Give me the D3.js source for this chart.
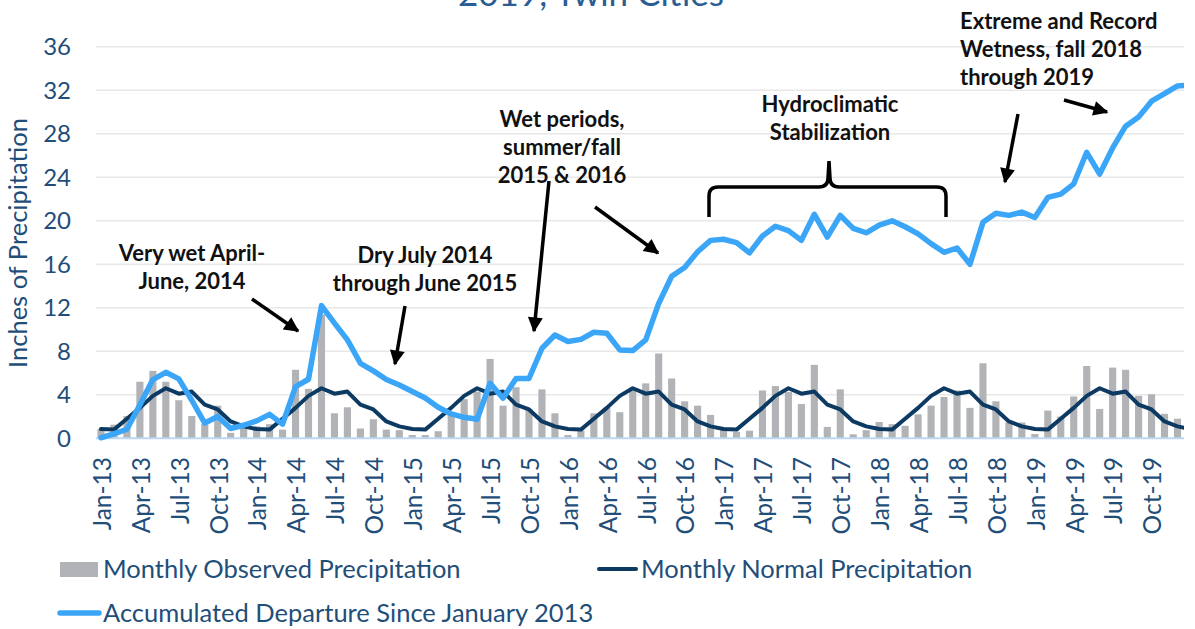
<!DOCTYPE html>
<html>
<head>
<meta charset="utf-8">
<script src="https://cdn.jsdelivr.net/npm/d3@7"></script>
<style>
  body { margin: 0; background: #fff; }
  text { font-family: Lato, "Open Sans", sans-serif; }
</style>
</head>
<body>
<div id="chart"></div>
<script>
var width = 1195,
    height = 629;

// categories
var monthNames = ["Jan","Feb","Mar","Apr","May","Jun","Jul","Aug","Sep","Oct","Nov","Dec"];
var years = ["13","14","15","16","17","18","19"];

// monthly observed precipitation (inches), Jan-13 .. Dec-19
var observed = [
  0.85, 1.25, 2.05, 5.2, 6.2, 5.2, 3.5, 2.05, 1.3, 3.0, 0.5, 0.95,
  1.1, 1.3, 0.8, 6.3, 4.55, 11.4, 2.3, 2.85, 0.9, 1.75, 0.8, 0.75,
  0.3, 0.3, 0.65, 2.2, 3.6, 4.3, 7.3, 3.0, 4.7, 2.7, 4.5, 2.3,
  0.3, 0.7, 2.3, 2.8, 2.4, 4.5, 5.05, 7.8, 5.5, 3.4, 3.0, 2.15,
  0.8, 0.6, 0.7, 4.4, 4.8, 4.25, 3.15, 6.75, 1.05, 4.5, 0.37, 0.75,
  1.5, 1.3, 1.15, 2.2, 3.0, 3.8, 4.4, 2.8, 6.9, 3.4, 1.45, 1.45,
  0.4, 2.55, 2.0, 3.85, 6.65, 2.7, 6.5, 6.3, 3.9, 4.05, 2.25, 1.8
];

// monthly normal precipitation, Jan-13 .. Jan-20
var normal = [
  0.85, 0.8, 1.8, 2.8, 3.9, 4.6, 4.1, 4.3, 3.1, 2.65, 1.55, 1.1,
  0.85, 0.8, 1.8, 2.8, 3.9, 4.6, 4.1, 4.3, 3.1, 2.65, 1.55, 1.1,
  0.85, 0.8, 1.8, 2.8, 3.9, 4.6, 4.1, 4.3, 3.1, 2.65, 1.55, 1.1,
  0.85, 0.8, 1.8, 2.8, 3.9, 4.6, 4.1, 4.3, 3.1, 2.65, 1.55, 1.1,
  0.85, 0.8, 1.8, 2.8, 3.9, 4.6, 4.1, 4.3, 3.1, 2.65, 1.55, 1.1,
  0.85, 0.8, 1.8, 2.8, 3.9, 4.6, 4.1, 4.3, 3.1, 2.65, 1.55, 1.1,
  0.85, 0.8, 1.8, 2.8, 3.9, 4.6, 4.1, 4.3, 3.1, 2.65, 1.55, 1.1,
  0.85
];

// accumulated departure since January 2013, Jan-13 .. Jan-20
var departure = [
  0.05, 0.4, 0.83, 3.07, 5.4, 6.07, 5.46, 3.5, 1.4, 2.0, 0.9, 1.2,
  1.6, 2.2, 1.3, 4.75, 5.43, 12.2, 10.6, 9.05, 6.9, 6.2, 5.4, 4.9,
  4.3, 3.7, 2.85, 2.24, 1.93, 1.75, 5.06, 3.68, 5.5, 5.5, 8.28, 9.5,
  8.9, 9.1, 9.75, 9.66, 8.13, 8.07, 9.05, 12.4, 14.9, 15.7, 17.15, 18.2,
  18.3, 18.0, 17.05, 18.6, 19.5, 19.1, 18.2, 20.6, 18.5, 20.5, 19.3, 18.9,
  19.6, 20.0, 19.45, 18.8, 17.9, 17.1, 17.5, 16.0, 19.86, 20.7, 20.5, 20.8,
  20.3, 22.15, 22.46, 23.4, 26.3, 24.3, 26.7, 28.7, 29.55, 31.0, 31.7, 32.4,
  32.5
];

var yTicks = [0, 4, 8, 12, 16, 20, 24, 28, 32, 36];

var months = [];
years.forEach(function(yr) {
  monthNames.forEach(function(m) { months.push(m + "-" + yr); });
});
months.push("Jan-20");

var navy = "#1f4e79";

var svg = d3.select("#chart").append("svg")
    .attr("width", width)
    .attr("height", height);

var step = 12.97,
    left = 94.5,
    right = 1184;

var x = d3.scaleBand()
    .domain(months)
    .range([left, left + months.length * step])
    .paddingInner(0.45)
    .paddingOuter(0.225);

var cx = function(m) { return x(m) + x.bandwidth() / 2; };

var y = d3.scaleLinear()
    .domain([0, 36])
    .range([438.3, 46.8]);

svg.append("defs").append("clipPath")
    .attr("id", "plot-clip")
  .append("rect")
    .attr("x", 0).attr("y", 0)
    .attr("width", right).attr("height", height);

// title (its upper part lies outside the picture, as in the source)
svg.append("text")
    .attr("x", 591)
    .attr("y", 6)
    .attr("text-anchor", "middle")
    .style("font-size", "35px")
    .style("fill", "#2a5d94")
    .text("2019, Twin Cities");

// gridlines
svg.selectAll(".grid")
  .data(yTicks.filter(function(d) { return d > 0; }))
  .enter().append("line")
    .attr("x1", 96).attr("x2", right)
    .attr("y1", function(d) { return y(d); })
    .attr("y2", function(d) { return y(d); })
    .style("stroke", "#e8e8e8")
    .style("stroke-width", 1.5);

// y tick labels
svg.selectAll(".ytick")
  .data(yTicks)
  .enter().append("text")
    .attr("x", 71)
    .attr("y", function(d) { return y(d); })
    .attr("dy", "0.36em")
    .attr("text-anchor", "end")
    .style("font-size", "24px")
    .style("fill", navy)
    .text(function(d) { return d; });

svg.append("text")
    .attr("transform", "translate(27,243) rotate(-90)")
    .attr("text-anchor", "middle")
    .style("font-size", "25.5px")
    .style("fill", navy)
    .text("Inches of Precipitation");

// bars
svg.selectAll(".bar")
  .data(observed)
  .enter().append("rect")
    .attr("x", function(d, i) { return x(months[i]); })
    .attr("y", function(d) { return y(d); })
    .attr("width", x.bandwidth())
    .attr("height", function(d) { return y(0) - y(d); })
    .style("fill", "#b1b3b6");

// baseline
svg.append("line")
    .attr("x1", 96).attr("x2", right)
    .attr("y1", y(0)).attr("y2", y(0))
    .style("stroke", "#bcd8f2")
    .style("stroke-width", 2);

var line = d3.line()
    .x(function(d, i) { return cx(months[i]); })
    .y(function(d) { return y(d); });

var lines = svg.append("g").attr("clip-path", "url(#plot-clip)");

lines.append("path")
    .datum(normal)
    .attr("d", line)
    .style("fill", "none")
    .style("stroke", "#0c3a62")
    .style("stroke-width", 4)
    .style("stroke-linejoin", "round")
    .style("stroke-linecap", "round");

lines.append("path")
    .datum(departure)
    .attr("d", line)
    .style("fill", "none")
    .style("stroke", "#3ba6f8")
    .style("stroke-width", 5.5)
    .style("stroke-linejoin", "round")
    .style("stroke-linecap", "round");

// x tick labels, every third month
svg.selectAll(".xtick")
  .data(months.filter(function(d, i) { return i % 3 === 0 && i < 84; }))
  .enter().append("text")
    .attr("transform", function(d) { return "translate(" + (cx(d) + 1) + ",457) rotate(-90)"; })
    .attr("dy", "0.36em")
    .attr("text-anchor", "end")
    .style("font-size", "24.5px")
    .style("fill", navy)
    .text(function(d) { return d; });

// legend
svg.append("rect")
    .attr("x", 60).attr("y", 562)
    .attr("width", 38).attr("height", 15)
    .style("fill", "#b1b3b6");
svg.append("text")
    .attr("x", 103).attr("y", 569).attr("dy", "0.36em")
    .style("font-size", "25.5px").style("fill", navy)
    .text("Monthly Observed Precipitation");

svg.append("line")
    .attr("x1", 599).attr("x2", 636)
    .attr("y1", 569).attr("y2", 569)
    .style("stroke", "#0c3a62").style("stroke-width", 4)
    .style("stroke-linecap", "round");
svg.append("text")
    .attr("x", 641).attr("y", 569).attr("dy", "0.36em")
    .style("font-size", "25.5px").style("fill", navy)
    .text("Monthly Normal Precipitation");

svg.append("line")
    .attr("x1", 60).attr("x2", 99)
    .attr("y1", 613).attr("y2", 613)
    .style("stroke", "#3ba6f8").style("stroke-width", 5.5)
    .style("stroke-linecap", "round");
svg.append("text")
    .attr("x", 103).attr("y", 613).attr("dy", "0.36em")
    .style("font-size", "25.5px").style("fill", navy)
    .text("Accumulated Departure Since January 2013");

// annotations
svg.append("defs").append("marker")
    .attr("id", "head")
    .attr("viewBox", "0 0 10 10")
    .attr("refX", 9).attr("refY", 5)
    .attr("markerUnits", "userSpaceOnUse")
    .attr("markerWidth", 16).attr("markerHeight", 15)
    .attr("orient", "auto")
  .append("path")
    .attr("d", "M0,0 L10,5 L0,10 Z")
    .style("fill", "#000");

var notes = [
  {x: 192, y: 261, anchor: "middle", lines: ["Very wet April-", "June, 2014"]},
  {x: 425, y: 263, anchor: "middle", lines: ["Dry July 2014", "through June 2015"]},
  {x: 562, y: 127, anchor: "middle", lines: ["Wet periods,", "summer/fall", "2015 & 2016"]},
  {x: 830, y: 112, anchor: "middle", lines: ["Hydroclimatic", "Stabilization"]},
  {x: 960, y: 29, anchor: "start", lines: ["Extreme and Record", "Wetness, fall 2018", "through 2019"]}
];

notes.forEach(function(n) {
  var t = svg.append("text")
      .attr("text-anchor", n.anchor)
      .style("font-size", "22px")
      .style("font-weight", "bold")
      .style("fill", "#111");
  n.lines.forEach(function(l, i) {
    t.append("tspan").attr("x", n.x).attr("y", n.y + i * 28).text(l);
  });
});

var arrows = [
  [252, 299, 298, 331],
  [405, 306, 395, 364],
  [549, 181, 534, 331],
  [595, 207, 658, 253],
  [1018, 114, 1005, 182],
  [1064, 100, 1107, 112]
];

svg.selectAll(".arrow")
  .data(arrows)
  .enter().append("line")
    .attr("x1", function(d) { return d[0]; })
    .attr("y1", function(d) { return d[1]; })
    .attr("x2", function(d) { return d[2]; })
    .attr("y2", function(d) { return d[3]; })
    .attr("marker-end", "url(#head)")
    .style("stroke", "#000")
    .style("stroke-width", 3.5);

// brace over the stabilization period
svg.append("path")
    .attr("d", "M709,217 L709,196 Q709,187 718,187 L819,187 Q828,187 828,178 L829,161 " +
               "L830,178 Q830,187 839,187 L937,187 Q946,187 946,196 L946,217")
    .style("fill", "none")
    .style("stroke", "#000")
    .style("stroke-width", 3.5);
</script>
</body>
</html>
